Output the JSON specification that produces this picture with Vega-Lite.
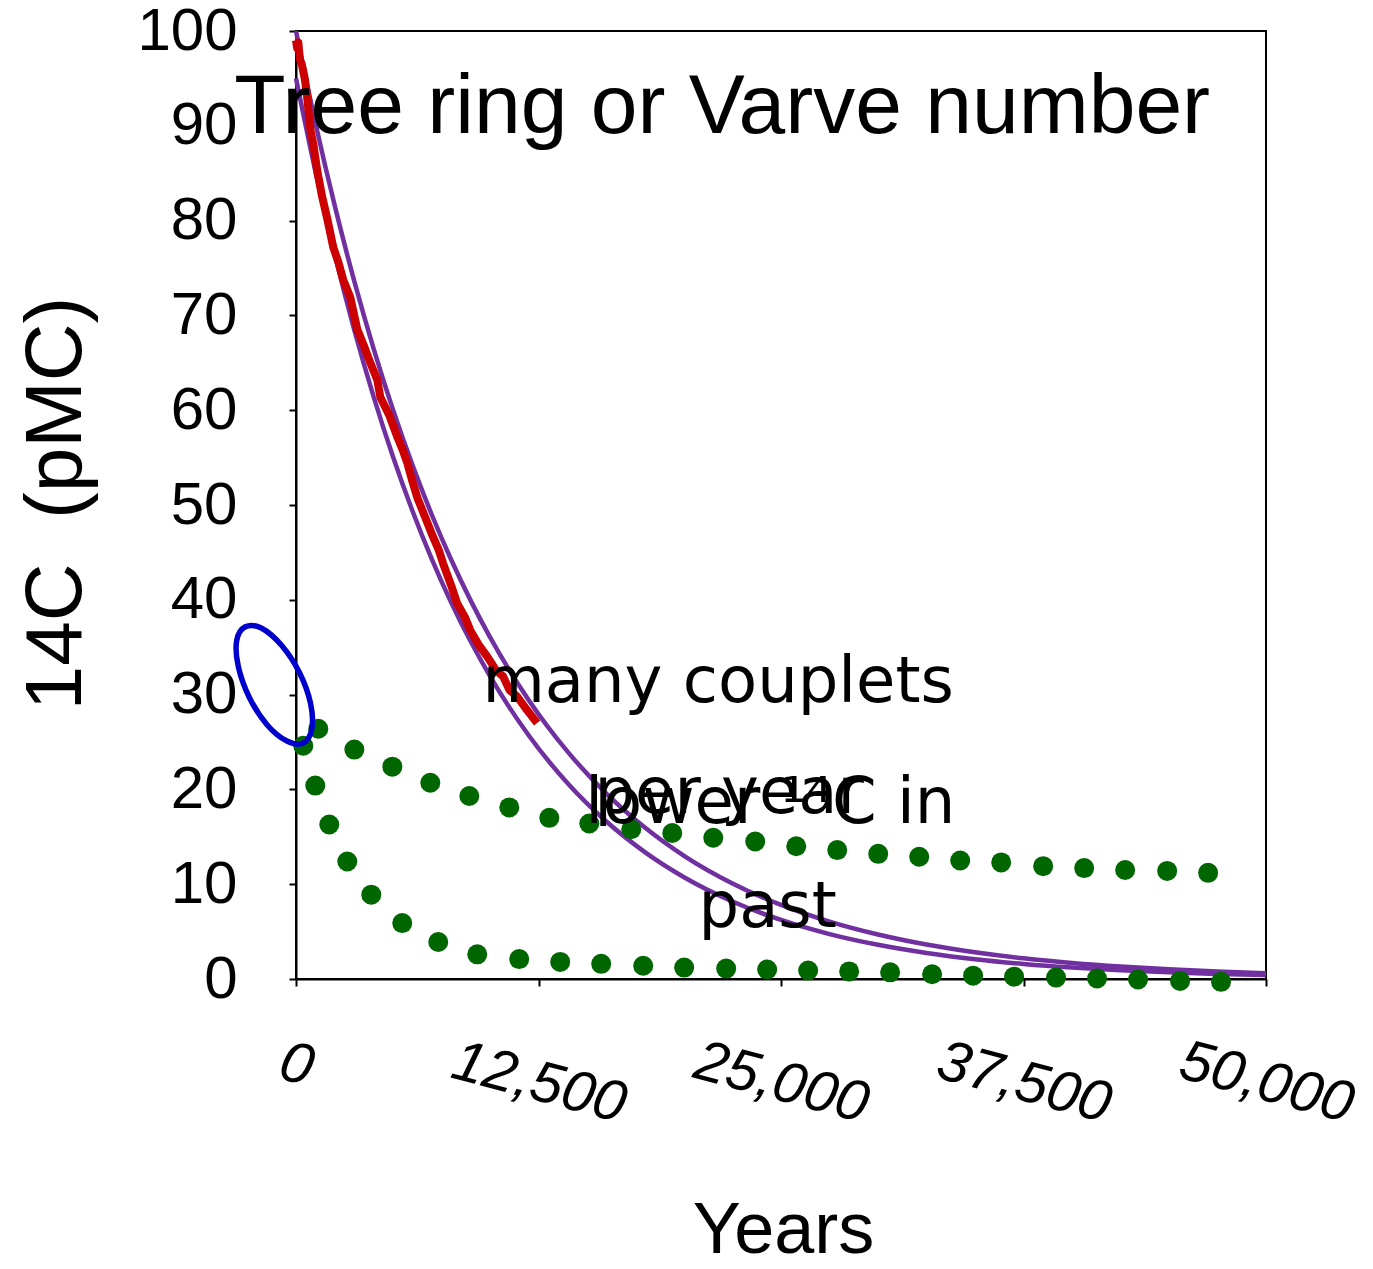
{
  "$schema": "https://vega.github.io/schema/vega-lite/v6.json",
  "width": 970,
  "height": 948,
  "autosize": {"type": "none"},
  "padding": {"left": 296, "top": 31, "right": 107, "bottom": 290},
  "background": "white",
  "config": {
    "view": {"stroke": "black", "strokeWidth": 2},
    "axis": {
      "grid": false,
      "domainColor": "black",
      "domainWidth": 2,
      "tickColor": "black",
      "tickWidth": 2,
      "tickSize": 7,
      "labelColor": "black",
      "titleColor": "black",
      "labelFont": "Liberation Sans",
      "titleFont": "Liberation Sans",
      "titleFontWeight": "normal"
    }
  },
  "datasets": {
    "curves": [
      {"curve": "outer", "t": 0, "v": 100},
      {"curve": "outer", "t": 1000, "v": 90.3},
      {"curve": "outer", "t": 2000, "v": 81.55},
      {"curve": "outer", "t": 3000, "v": 73.64},
      {"curve": "outer", "t": 4000, "v": 66.5},
      {"curve": "outer", "t": 5000, "v": 60.05},
      {"curve": "outer", "t": 6000, "v": 54.23},
      {"curve": "outer", "t": 7000, "v": 48.97},
      {"curve": "outer", "t": 8000, "v": 44.22},
      {"curve": "outer", "t": 9000, "v": 39.94},
      {"curve": "outer", "t": 10000, "v": 36.06},
      {"curve": "outer", "t": 12000, "v": 29.41},
      {"curve": "outer", "t": 14000, "v": 23.98},
      {"curve": "outer", "t": 16000, "v": 19.56},
      {"curve": "outer", "t": 18000, "v": 15.95},
      {"curve": "outer", "t": 20000, "v": 13.0},
      {"curve": "outer", "t": 22500, "v": 10.08},
      {"curve": "outer", "t": 25000, "v": 7.81},
      {"curve": "outer", "t": 27500, "v": 6.05},
      {"curve": "outer", "t": 30000, "v": 4.69},
      {"curve": "outer", "t": 32500, "v": 3.63},
      {"curve": "outer", "t": 35000, "v": 2.82},
      {"curve": "outer", "t": 37500, "v": 2.18},
      {"curve": "outer", "t": 40000, "v": 1.69},
      {"curve": "outer", "t": 42500, "v": 1.31},
      {"curve": "outer", "t": 45000, "v": 1.02},
      {"curve": "outer", "t": 47500, "v": 0.79},
      {"curve": "outer", "t": 50000, "v": 0.61},
      {"curve": "inner", "t": 0, "v": 95},
      {"curve": "inner", "t": 1000, "v": 85.19},
      {"curve": "inner", "t": 2000, "v": 76.39},
      {"curve": "inner", "t": 3000, "v": 68.5},
      {"curve": "inner", "t": 4000, "v": 61.43},
      {"curve": "inner", "t": 5000, "v": 55.08},
      {"curve": "inner", "t": 6000, "v": 49.4},
      {"curve": "inner", "t": 7000, "v": 44.3},
      {"curve": "inner", "t": 8000, "v": 39.72},
      {"curve": "inner", "t": 9000, "v": 35.62},
      {"curve": "inner", "t": 10000, "v": 31.94},
      {"curve": "inner", "t": 12000, "v": 25.69},
      {"curve": "inner", "t": 14000, "v": 20.65},
      {"curve": "inner", "t": 16000, "v": 16.61},
      {"curve": "inner", "t": 18000, "v": 13.36},
      {"curve": "inner", "t": 20000, "v": 10.74},
      {"curve": "inner", "t": 22500, "v": 8.18},
      {"curve": "inner", "t": 25000, "v": 6.23},
      {"curve": "inner", "t": 27500, "v": 4.74},
      {"curve": "inner", "t": 30000, "v": 3.61},
      {"curve": "inner", "t": 32500, "v": 2.75},
      {"curve": "inner", "t": 35000, "v": 2.09},
      {"curve": "inner", "t": 37500, "v": 1.59},
      {"curve": "inner", "t": 40000, "v": 1.21},
      {"curve": "inner", "t": 42500, "v": 0.92},
      {"curve": "inner", "t": 45000, "v": 0.7},
      {"curve": "inner", "t": 47500, "v": 0.54},
      {"curve": "inner", "t": 50000, "v": 0.41}
    ],
    "treering": [
      {"t": 0, "v": 99.0},
      {"t": 60, "v": 98.2},
      {"t": 120, "v": 98.8},
      {"t": 200, "v": 97.0},
      {"t": 300, "v": 96.5},
      {"t": 450, "v": 95.0},
      {"t": 550, "v": 93.5},
      {"t": 650, "v": 91.5},
      {"t": 750, "v": 89.5},
      {"t": 900, "v": 88.0},
      {"t": 1100, "v": 85.2},
      {"t": 1350, "v": 82.5},
      {"t": 1600, "v": 80.3},
      {"t": 1920, "v": 77.2},
      {"t": 2200, "v": 75.5},
      {"t": 2440, "v": 73.7},
      {"t": 2800, "v": 71.9},
      {"t": 3160, "v": 68.5},
      {"t": 3500, "v": 66.8},
      {"t": 3830, "v": 65.0},
      {"t": 4190, "v": 63.2},
      {"t": 4344, "v": 61.4},
      {"t": 4800, "v": 59.5},
      {"t": 5220, "v": 57.2},
      {"t": 5500, "v": 55.8},
      {"t": 5740, "v": 54.4},
      {"t": 6000, "v": 52.5},
      {"t": 6250, "v": 50.8},
      {"t": 6700, "v": 48.5},
      {"t": 7070, "v": 46.6},
      {"t": 7350, "v": 45.3},
      {"t": 7590, "v": 43.8},
      {"t": 8000, "v": 41.5},
      {"t": 8310, "v": 39.6},
      {"t": 8700, "v": 38.2},
      {"t": 8980, "v": 36.8},
      {"t": 9400, "v": 35.3},
      {"t": 9860, "v": 34.0},
      {"t": 10300, "v": 32.6},
      {"t": 10680, "v": 31.9},
      {"t": 11000, "v": 30.5},
      {"t": 11400, "v": 29.8},
      {"t": 11900, "v": 28.4},
      {"t": 12430, "v": 27.0}
    ],
    "dots": [
      {"series": "upper", "t": 1149, "v": 26.4},
      {"series": "upper", "t": 3008, "v": 24.2},
      {"series": "upper", "t": 4966, "v": 22.4},
      {"series": "upper", "t": 6924, "v": 20.7},
      {"series": "upper", "t": 8934, "v": 19.3},
      {"series": "upper", "t": 10995, "v": 18.1},
      {"series": "upper", "t": 13056, "v": 17.0},
      {"series": "upper", "t": 15118, "v": 16.4},
      {"series": "upper", "t": 17282, "v": 15.8},
      {"series": "upper", "t": 19395, "v": 15.4},
      {"series": "upper", "t": 21508, "v": 14.9},
      {"series": "upper", "t": 23672, "v": 14.5},
      {"series": "upper", "t": 25786, "v": 14.0},
      {"series": "upper", "t": 27898, "v": 13.6},
      {"series": "upper", "t": 30011, "v": 13.2},
      {"series": "upper", "t": 32124, "v": 12.9},
      {"series": "upper", "t": 34237, "v": 12.5},
      {"series": "upper", "t": 36350, "v": 12.3},
      {"series": "upper", "t": 38514, "v": 11.9},
      {"series": "upper", "t": 40627, "v": 11.7},
      {"series": "upper", "t": 42740, "v": 11.5},
      {"series": "upper", "t": 44905, "v": 11.4},
      {"series": "upper", "t": 47017, "v": 11.2},
      {"series": "lower", "t": 376, "v": 24.6},
      {"series": "lower", "t": 994, "v": 20.4},
      {"series": "lower", "t": 1716, "v": 16.3},
      {"series": "lower", "t": 2643, "v": 12.4},
      {"series": "lower", "t": 3880, "v": 8.9},
      {"series": "lower", "t": 5477, "v": 5.9},
      {"series": "lower", "t": 7332, "v": 3.9},
      {"series": "lower", "t": 9342, "v": 2.6},
      {"series": "lower", "t": 11506, "v": 2.1},
      {"series": "lower", "t": 13619, "v": 1.8},
      {"series": "lower", "t": 15732, "v": 1.6},
      {"series": "lower", "t": 17896, "v": 1.4},
      {"series": "lower", "t": 20009, "v": 1.2},
      {"series": "lower", "t": 22174, "v": 1.1},
      {"series": "lower", "t": 24286, "v": 1.0},
      {"series": "lower", "t": 26399, "v": 0.9},
      {"series": "lower", "t": 28512, "v": 0.8},
      {"series": "lower", "t": 30625, "v": 0.7},
      {"series": "lower", "t": 32789, "v": 0.5},
      {"series": "lower", "t": 34902, "v": 0.35},
      {"series": "lower", "t": 37015, "v": 0.25},
      {"series": "lower", "t": 39179, "v": 0.15},
      {"series": "lower", "t": 41292, "v": 0.05},
      {"series": "lower", "t": 43405, "v": -0.05},
      {"series": "lower", "t": 45570, "v": -0.2},
      {"series": "lower", "t": 47682, "v": -0.3}
    ],
    "ellipse": [
      {"i": 0, "t": 376, "v": 24.9},
      {"i": 1, "t": 815, "v": 26.4},
      {"i": 2, "t": 747, "v": 29.1},
      {"i": 3, "t": 170, "v": 32.35},
      {"i": 4, "t": -747, "v": 35.2},
      {"i": 5, "t": -1768, "v": 37.0},
      {"i": 6, "t": -2613, "v": 37.15},
      {"i": 7, "t": -3056, "v": 35.7},
      {"i": 8, "t": -2978, "v": 33.0},
      {"i": 9, "t": -2406, "v": 29.7},
      {"i": 10, "t": -1484, "v": 26.8},
      {"i": 11, "t": -469, "v": 25.1}
    ],
    "title": [
      {"t": 21970, "v": 89.2, "label": "Tree ring or Varve number"}
    ],
    "notes": [
      {"t": 21762, "v": 29.2, "label": "many couplets"},
      {"t": 22328, "v": 17.55, "label": "per year"},
      {"t": 24450, "v": 16.5, "label": "lower ¹⁴C in"},
      {"t": 24312, "v": 5.45, "label": "past"}
    ]
  },
  "encoding": {
    "x": {
      "field": "t",
      "type": "quantitative",
      "scale": {"domain": [0, 50000], "nice": false, "zero": false},
      "axis": {
        "title": "Years",
        "values": [0, 12500, 25000, 37500, 50000],
        "format": ",.0f",
        "labelFontSize": 58,
        "labelFontStyle": "italic",
        "labelAngle": 15,
        "labelAlign": "center",
        "labelBaseline": "middle",
        "labelPadding": {"condition": {"test": "datum.value === 0", "value": 79}, "value": 97},
        "labelOverlap": false,
        "titleFontSize": 72,
        "titleX": 487,
        "titleY": 273,
        "titleAlign": "center",
        "titleBaseline": "alphabetic"
      }
    },
    "y": {
      "field": "v",
      "type": "quantitative",
      "scale": {"domain": [0, 100], "nice": false},
      "axis": {
        "title": "14C\u00a0\u00a0(pMC)",
        "values": [0, 10, 20, 30, 40, 50, 60, 70, 80, 90, 100],
        "labelFontSize": 60,
        "labelPadding": 52,
        "labelOverlap": false,
        "titleFontSize": 80,
        "titleAngle": -90,
        "titleX": -240,
        "titleY": 472,
        "titleAlign": "center",
        "titleBaseline": "middle"
      }
    }
  },
  "layer": [
    {
      "data": {"name": "curves"},
      "mark": {"type": "line", "color": "#7030A0", "strokeWidth": 4.5, "interpolate": "monotone"},
      "encoding": {"detail": {"field": "curve"}, "order": {"field": "t", "type": "quantitative"}}
    },
    {
      "data": {"name": "treering"},
      "mark": {"type": "line", "color": "#CC0000", "strokeWidth": 8, "strokeJoin": "round"},
      "encoding": {"order": {"field": "t", "type": "quantitative"}}
    },
    {
      "data": {"name": "dots"},
      "mark": {"type": "circle", "size": 400, "color": "#006600", "opacity": 1},
      "encoding": {"detail": {"field": "series"}}
    },
    {
      "data": {"name": "ellipse"},
      "mark": {"type": "line", "color": "#0000CC", "strokeWidth": 5.5, "interpolate": "cardinal-closed"},
      "encoding": {"order": {"field": "i", "type": "quantitative"}}
    },
    {
      "data": {"name": "title"},
      "mark": {"type": "text", "font": "Liberation Sans", "fontSize": 84, "align": "center", "baseline": "alphabetic", "color": "black"},
      "encoding": {"text": {"field": "label"}}
    },
    {
      "data": {"name": "notes"},
      "mark": {"type": "text", "font": "DejaVu Sans", "fontSize": 64, "align": "center", "baseline": "alphabetic", "color": "black"},
      "encoding": {"text": {"field": "label"}}
    }
  ]
}
